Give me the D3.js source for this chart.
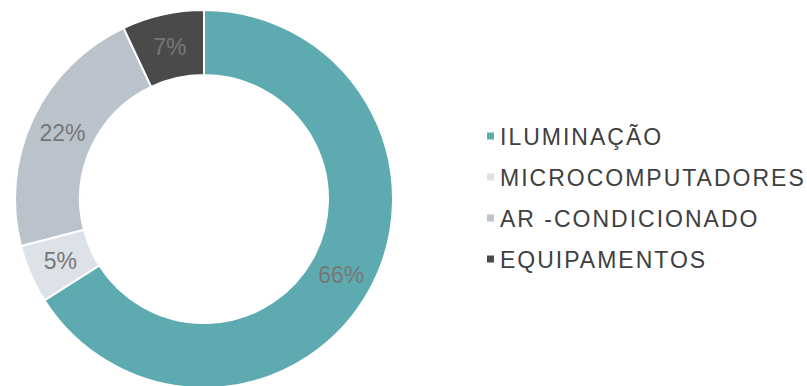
<!DOCTYPE html>
<html>
<head>
  <meta charset="UTF-8">
  <title></title>
  <style>
    body {
      margin: 0;
      background-color: #FFFFFF;
      font-family: 'Liberation Sans', Arial, sans-serif;
    }
    .legend text {
      fill: #404040;
      font-size: 23px;
      letter-spacing: 2px;
    }
    .labels text {
      fill: #777777;
      font-size: 23px;
    }
  </style>
</head>
<body>
  <div id="container"></div>

  <script src="https://d3js.org/d3.v7.min.js"></script>
  <script>
    var categories = ["ILUMINAÇÃO", "MICROCOMPUTADORES", "AR -CONDICIONADO", "EQUIPAMENTOS"];
    var values = [66, 5, 22, 7];
    var colors = ["#5DAAB0", "#DDE1E8", "#BAC3CC", "#4A4A4A"];

    var width = 807, height = 386;
    var cx = 204, cy = 199;
    var outerR = 189, innerR = 124;

    var svg = d3.select("#container").append("svg")
      .attr("width", width)
      .attr("height", height);

    var data = categories.map(function(c, i) { return {name: c, value: values[i], color: colors[i]}; });

    var pie = d3.pie().sort(null).value(function(d) { return d.value; });
    var arc = d3.arc().innerRadius(innerR).outerRadius(outerR);

    var g = svg.append("g").attr("transform", "translate(" + cx + "," + cy + ")");

    // slices
    g.selectAll("path")
      .data(pie(data))
      .enter().append("path")
        .attr("d", arc)
        .attr("fill", function(d) { return d.data.color; })
        .attr("stroke", "#fff")
        .attr("stroke-width", 2);

    // percent labels
    g.append("g").attr("class", "labels")
      .selectAll("text")
      .data(pie(data))
      .enter().append("text")
        .attr("transform", function(d) { return "translate(" + arc.centroid(d) + ")"; })
        .attr("text-anchor", "middle")
        .attr("dy", "0.36em")
        .text(function(d) { return d.data.value + "%"; });

    // legend
    var legY = d3.scaleBand().domain(categories).range([116, 280]);
    var legend = svg.append("g").attr("class", "legend")
      .selectAll("g")
      .data(data)
      .enter().append("g")
        .attr("transform", function(d) { return "translate(487," + (legY(d.name) + legY.bandwidth() / 2) + ")"; });

    legend.append("rect")
      .attr("x", 0).attr("y", -4)
      .attr("width", 7).attr("height", 7)
      .attr("fill", function(d) { return d.color; });

    legend.append("text")
      .attr("x", 13)
      .attr("dy", "0.36em")
      .text(function(d) { return d.name; });
  </script>
</body>
</html>
